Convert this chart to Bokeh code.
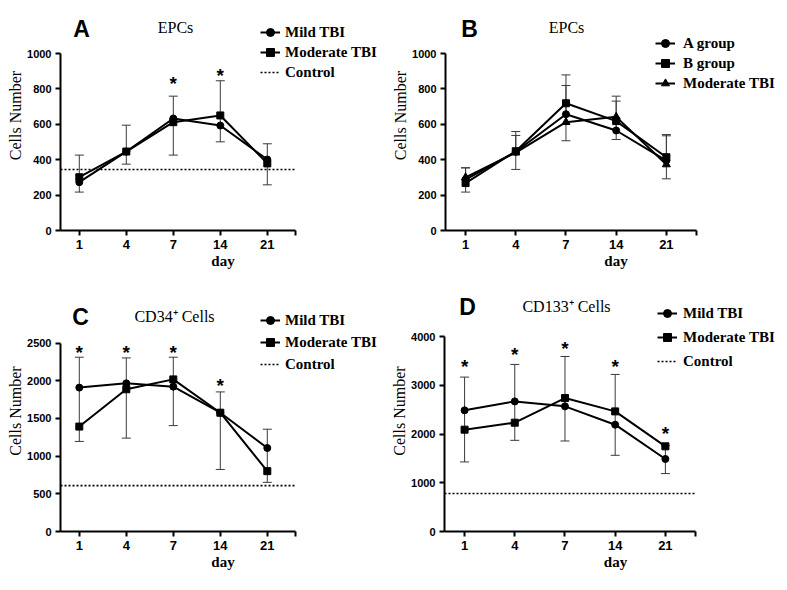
from bokeh.plotting import figure
from bokeh.models import (Range1d, FixedTicker, Whisker, ColumnDataSource, Label,
                          Legend, LegendItem, TeeHead)
from bokeh.layouts import row, column
from bokeh.core.properties import value
from bokeh.embed import file_html
from bokeh.resources import INLINE

days = ["1", "4", "7", "14", "21"]

# Panel A - EPCs
a_mild = [273, 446, 633, 593, 401]
a_moderate = [301, 446, 612, 650, 379]
a_upper = [426, 595, 759, 846, 490]
a_lower = [217, 375, 426, 501, 258]
a_control = 345
a_star_idx = [2, 3]
a_star_y = [847, 895]

# Panel B - EPCs by group
b_agroup = [288, 445, 657, 565, 395]
b_bgroup = [268, 448, 719, 618, 414]
b_moderate = [300, 440, 612, 642, 373]
b_upper = [354, 559, 879, 759, 542]
b_upper2 = [354, 537, 819, 731, 535]
b_lower = [217, 345, 507, 514, 292]

# Panel C - CD34+ cells
c_mild = [1909, 1966, 1922, 1576, 1108]
c_moderate = [1392, 1887, 2018, 1576, 801]
c_upper = [2312, 2303, 2312, 1852, 1357]
c_lower = [1195, 1239, 1405, 823, 652]
c_control = 609
c_star_idx = [0, 1, 2, 3]
c_star_y = [2412, 2412, 2412, 1983]

# Panel D - CD133+ cells
d_mild = [2485, 2669, 2567, 2191, 1488]
d_moderate = [2089, 2232, 2737, 2464, 1747]
d_upper = [3167, 3427, 3590, 3222, 1760]
d_lower = [1427, 1870, 1857, 1563, 1188]
d_control = 778
d_star_idx = [0, 1, 2, 3, 4]
d_star_y = [3440, 3700, 3816, 3440, 2075]

XS = list(range(len(days)))
X0, X1 = -0.4, 4.6
SERIF = "Liberation Serif"
SANS = "Liberation Sans"


class Panel:
    """Figure whose frame spans to its top/right edge; axes limited by bounds."""

    def __init__(self, fig_left, fig_top, fig_w, fig_h, left_b, axL, axR, axT, axB,
                 ymax, yticks):
        bottom_b = fig_top + fig_h - axB
        self.axL, self.axB = axL, axB
        self.upx = (X1 - X0) / (axR - axL)
        self.upy = ymax / (axB - axT)
        fx0 = fig_left + left_b
        fx1 = fig_left + fig_w
        fy0 = fig_top
        x_start = X0 - (axL - fx0) * self.upx
        x_end = X0 + (fx1 - axL) * self.upx
        y_end = (axB - fy0) * self.upy
        p = figure(width=fig_w, height=fig_h,
                   x_range=Range1d(x_start, x_end), y_range=Range1d(0, y_end),
                   output_backend="svg", toolbar_location=None,
                   min_border_left=left_b, min_border_right=0,
                   min_border_top=0, min_border_bottom=bottom_b)
        p.title = None
        p.outline_line_color = None
        p.xgrid.visible = False
        p.ygrid.visible = False
        p.background_fill_color = "white"
        p.border_fill_color = "white"
        for ax in (p.xaxis[0], p.yaxis[0]):
            ax.axis_line_width = 2
            ax.axis_line_color = "black"
            ax.major_tick_line_width = 2
            ax.major_tick_line_color = "black"
            ax.major_tick_out = 5
            ax.major_tick_in = 0
            ax.minor_tick_line_color = None
            ax.major_label_text_font = SANS
            ax.major_label_text_font_style = "bold"
            ax.major_label_text_color = "black"
            ax.axis_label_text_color = "black"
            ax.axis_label_text_font = SERIF
        p.xaxis.bounds = (X0, X1)
        p.yaxis.bounds = (0, ymax)
        p.xaxis.ticker = FixedTicker(ticks=XS + [X1])
        overrides = {i: d for i, d in enumerate(days)}
        overrides[X1] = ""
        p.xaxis.major_label_overrides = overrides
        p.xaxis.major_label_text_font_size = "13px"
        p.xaxis.major_label_standoff = 4
        p.xaxis.axis_label = "day"
        p.xaxis.axis_label_text_font_style = "bold"
        p.xaxis.axis_label_text_font_size = "15px"
        p.xaxis.axis_label_standoff = 1
        p.yaxis.ticker = FixedTicker(ticks=yticks)
        p.yaxis.major_label_text_font_size = "11px"
        p.yaxis.major_label_standoff = 4
        p.yaxis.axis_label = "Cells Number"
        p.yaxis.axis_label_text_font_style = "normal"
        p.yaxis.axis_label_text_font_size = "16px"
        p.yaxis.axis_label_standoff = 0
        self.p = p

    def to_data(self, px, py):
        return X0 + (px - self.axL) * self.upx, (self.axB - py) * self.upy

    def labels(self, letter, lpos, title, tpos):
        x, y = self.to_data(*lpos)
        self.p.add_layout(Label(x=x, y=y, text=letter, text_font=SANS,
                                text_font_style="bold", text_font_size="23px",
                                text_align="center", text_baseline="middle",
                                text_color="black"))
        x, y = self.to_data(*tpos)
        self.p.add_layout(Label(x=x, y=y, text=title, text_font=SERIF,
                                text_font_style="normal", text_font_size="16px",
                                text_align="center", text_baseline="middle",
                                text_color="black"))

    def whisker(self, upper, lower, lower_head=True):
        src = ColumnDataSource(dict(x=XS, upper=upper, lower=lower))
        head = lambda: TeeHead(size=9, line_color="#3a3a3a", line_width=1)
        self.p.add_layout(Whisker(source=src, base="x", upper="upper", lower="lower",
                                  dimension="height", line_color="#3a3a3a",
                                  line_width=1, upper_head=head(),
                                  lower_head=head() if lower_head else None))

    def series(self, vals, marker, size):
        l = self.p.line(XS, vals, line_color="black", line_width=2)
        s = self.p.scatter(XS, vals, marker=marker, size=size, fill_color="black",
                           line_color="black")
        return [l, s]

    def control(self, ctrl):
        return [self.p.line([X0, X1], [ctrl, ctrl], line_color="black",
                            line_width=1.6, line_dash="2 2")]

    def stars(self, idx, ys):
        self.p.text(x=idx, y=ys, text=["*"] * len(idx), text_align="center",
                    text_baseline="middle", text_font=value(SANS),
                    text_font_style="bold", text_font_size="19px",
                    text_color="black", y_offset=3)

    def legend(self, items, loc, spacing, standoff):
        lg = Legend(items=[LegendItem(label=t, renderers=r) for t, r in items],
                    location=loc, padding=0, margin=0, spacing=spacing,
                    border_line_color=None, background_fill_alpha=0,
                    glyph_width=20, glyph_height=20, label_height=20,
                    label_standoff=standoff, label_text_font=SERIF,
                    label_text_font_style="bold", label_text_font_size="15px",
                    label_text_color="black")
        self.p.add_layout(lg, "center")


W_L, W_R = 385, 401
H_TOP, H_BOT = 290, 298

# ---------- Panel A ----------
A = Panel(0, 0, W_L, H_TOP, 60, 60, 295, 53, 230, 1000, [0, 200, 400, 600, 800, 1000])
A.whisker(a_upper, a_lower)
ctrlA = A.control(a_control)
mildA = A.series(a_mild, "circle", 7)
modA = A.series(a_moderate, "square", 7)
A.stars(a_star_idx, a_star_y)
A.labels("A", (81, 28), "EPCs", (175, 27))
A.legend([("Mild TBI", mildA), ("Moderate TBI", modA), ("Control", ctrlA)],
         (200, 148), 0, 5)

# ---------- Panel B ----------
B = Panel(W_L, 0, W_R, H_TOP, 60, 445, 696, 53, 230, 1000, [0, 200, 400, 600, 800, 1000])
B.whisker(b_upper, b_lower)
B.whisker(b_upper2, b_agroup, lower_head=False)
aB = B.series(b_agroup, "circle", 7)
bB = B.series(b_bgroup, "square", 7)
mB = B.series(b_moderate, "triangle", 8)
B.labels("B", (469, 28), "EPCs", (566, 27))
B.legend([("A group", aB), ("B group", bB), ("Moderate TBI", mB)],
         (210, 137), 0, 8)

# ---------- Panel C ----------
C = Panel(0, H_TOP, W_L, H_BOT, 60, 60, 295, 343, 533, 2500,
          [0, 500, 1000, 1500, 2000, 2500])
C.whisker(c_upper, c_lower)
ctrlC = C.control(c_control)
mildC = C.series(c_mild, "circle", 7)
modC = C.series(c_moderate, "square", 7)
C.stars(c_star_idx, c_star_y)
C.labels("C", (80, 317), "CD34\u207a Cells", (174, 316))
C.legend([("Mild TBI", mildC), ("Moderate TBI", modC), ("Control", ctrlC)],
         (200, 157), 2, 5)

# ---------- Panel D ----------
D = Panel(W_L, H_TOP, W_R, H_BOT, 59, 444, 695, 336, 531, 4000,
          [0, 1000, 2000, 3000, 4000])
D.whisker(d_upper, d_lower)
ctrlD = D.control(d_control)
mildD = D.series(d_mild, "circle", 7)
modD = D.series(d_moderate, "square", 7)
D.stars(d_star_idx, d_star_y)
D.labels("D", (467, 306), "CD133\u207a Cells", (566, 306))
D.legend([("Mild TBI", mildD), ("Moderate TBI", modD), ("Control", ctrlD)],
         (213, 160), 4, 6)

layout = column(row(A.p, B.p), row(C.p, D.p))
open("out.html", "w").write(file_html(layout, INLINE))
